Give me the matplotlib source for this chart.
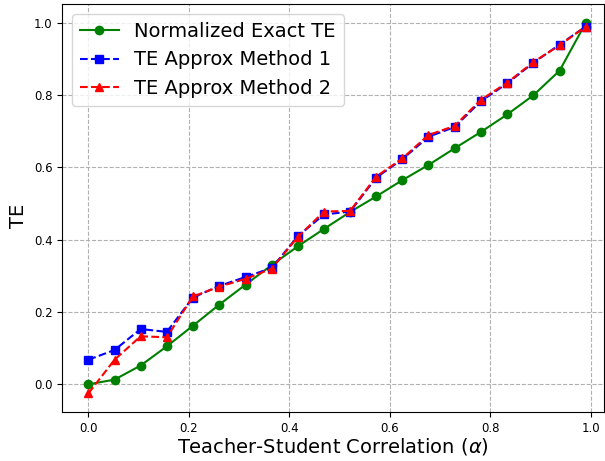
import numpy as np
import matplotlib.pyplot as plt

# correlation values and TE curves
alpha = [0.0, 0.052, 0.104, 0.156, 0.208, 0.26, 0.313, 0.365, 0.417, 0.469,
         0.521, 0.573, 0.625, 0.677, 0.729, 0.781, 0.834, 0.886, 0.938, 0.99]
te_exact = [0.0, 0.013, 0.052, 0.105, 0.162, 0.22, 0.276, 0.33, 0.382, 0.43,
            0.477, 0.52, 0.565, 0.607, 0.653, 0.698, 0.747, 0.8, 0.868, 1.0]
te_approx1 = [0.068, 0.095, 0.153, 0.145, 0.24, 0.272, 0.297, 0.322, 0.41, 0.47,
              0.478, 0.572, 0.623, 0.685, 0.712, 0.783, 0.833, 0.89, 0.94, 0.99]
te_approx2 = [-0.025, 0.068, 0.133, 0.13, 0.243, 0.27, 0.292, 0.32, 0.408, 0.478,
              0.48, 0.575, 0.625, 0.69, 0.715, 0.787, 0.835, 0.892, 0.938, 0.99]

fig = plt.figure(figsize=(6.05, 4.61), dpi=100)
ax = fig.add_axes([0.103, 0.106, 0.895, 0.885])

ax.plot(alpha, te_exact, 'o-', color='green', markersize=6, label='Normalized Exact TE')
ax.plot(alpha, te_approx1, 's--', color='blue', markersize=6, label='TE Approx Method 1')
ax.plot(alpha, te_approx2, '^--', color='red', markersize=6, label='TE Approx Method 2')

ax.set_xlim(-0.052, 1.026)
ax.set_ylim(-0.077, 1.052)
ax.set_xticks([0.0, 0.2, 0.4, 0.6, 0.8, 1.0])
ax.set_yticks([0.0, 0.2, 0.4, 0.6, 0.8, 1.0])
ax.tick_params(labelsize=8.5)
ax.grid(True, linestyle='--', color='#b0b0b0', linewidth=0.8)

ax.set_xlabel(r'Teacher-Student Correlation ($\alpha$)', fontsize=14, labelpad=1)
ax.set_ylabel('TE', fontsize=14)
ax.yaxis.set_label_coords(-0.063, 0.48)
ax.legend(fontsize=14, loc='upper left')

fig.savefig('out.png', dpi=100)
